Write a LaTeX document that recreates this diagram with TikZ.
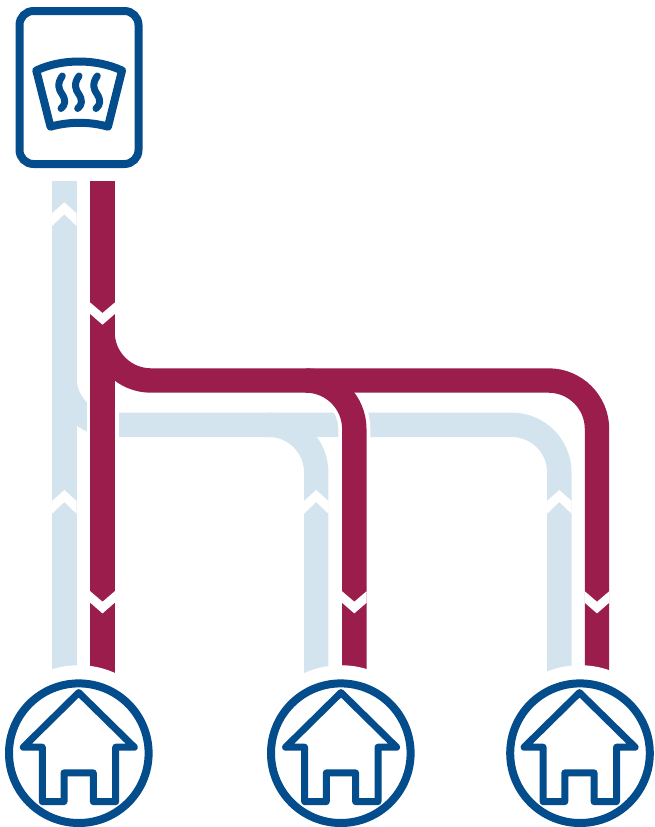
\documentclass[tikz,border=0pt]{standalone}
\definecolor{pipelight}{HTML}{D4E4EF}
\definecolor{pipedark}{HTML}{9B1D4C}
\definecolor{iconblue}{HTML}{034D8C}
\tikzset{
  x=1pt,y=-1pt,
  lightpipe/.style={draw=pipelight,line width=24.4pt,line cap=butt,rounded corners=47.5pt},
  darkpipe/.style={draw=pipedark,line width=24.4pt,line cap=butt,rounded corners=48.5pt},
  halo/.style={draw=white,line width=32pt,line cap=butt,rounded corners=48.5pt},
  iconline/.style={draw=iconblue,line width=7pt,line join=round,line cap=round},
  shieldline/.style={draw=iconblue,line width=8pt,line join=round,line cap=round},
  clearing/.style={circle,fill=white,minimum size=176pt,inner sep=0pt,outer sep=0pt},
  homering/.style={circle,draw=iconblue,fill=white,line width=8pt,minimum size=139.6pt,inner sep=0pt,outer sep=0pt},
  chevup/.pic={\fill[white] (-12.3,11)--(0,0)--(12.3,11)--(12.3,23.7)--(0,12)--(-12.3,23.7)--cycle;},
  chevdown/.pic={\fill[white] (-12.3,-10.5)--(0,0)--(12.3,-10.5)--(12.3,1)--(0,11.7)--(-12.3,1)--cycle;},
  house/.pic={\draw[iconline] (0,-60.6)--(55.6,-6)--(37,-6)--(37,48.4)--(14.6,48.4)--(14.6,19.7)--(-14.7,19.7)--(-14.7,48.4)--(-36.4,48.4)--(-36.4,-6)--(-55.4,-6)--cycle;},
}
\begin{document}
\begin{tikzpicture}
\useasboundingbox (0,0) rectangle (654,827);
% free pipe ends and junctions
\coordinate (ltop) at (64.3,181);
\coordinate (dtop) at (102.5,181);
\coordinate (lA) at (64.3,680);
\coordinate (dA) at (102.5,680);
\coordinate (lB) at (316.2,680);
\coordinate (dB) at (354.3,680);
\coordinate (lC) at (559.3,680);
\coordinate (dC) at (597,680);
\coordinate (ljA) at (64.3,377);
\coordinate (lcA) at (64.3,424.8);
\coordinate (ljB) at (269,424.8);
\coordinate (lcB) at (316.2,424.8);
\coordinate (lcC) at (559.3,424.8);
\coordinate (djA) at (102.5,332);
\coordinate (dcA) at (102.5,380.5);
\coordinate (djB) at (306,380.5);
\coordinate (dcB) at (354.3,380.5);
\coordinate (dcC) at (597,380.5);
% supply and return pipes
\draw[lightpipe] (ltop) -- (lA);
\draw[lightpipe] (ljA) -- (lcA) -- (lcC) -- (lC);
\draw[lightpipe] (ljB) -- (lcB) -- (lB);
\draw[halo] (dtop) -- (dA);
\draw[halo] (djA) -- (dcA) -- (dcC) -- (dC);
\draw[halo] (djB) -- (dcB) -- (dB);
\draw[darkpipe] (dtop) -- (dA);
\draw[darkpipe] (djA) -- (dcA) -- (dcC) -- (dC);
\draw[darkpipe] (djB) -- (dcB) -- (dB);
% flow direction marks
\pic at (64.3,202.3) {chevup};
\pic at (64.3,490) {chevup};
\pic at (316.2,490) {chevup};
\pic at (559.3,490) {chevup};
\pic at (102.5,313) {chevdown};
\pic at (102.5,601.7) {chevdown};
\pic at (354.3,601.7) {chevdown};
\pic at (597,601.7) {chevdown};
% houses
\node[clearing] (clearA) at (78.8,753.2) {};
\node[clearing] (clearB) at (340.8,753.2) {};
\node[clearing] (clearC) at (580,753.2) {};
\node[homering] (homeA) at (78.8,753.2) {};
\node[homering] (homeB) at (340.8,753.2) {};
\node[homering] (homeC) at (580,753.2) {};
\pic at (78.7,753.2) {house};
\pic at (341,753.2) {house};
\pic at (579.5,753.2) {house};
% heat source
\node[draw=iconblue,line width=8pt,rounded corners=14pt,minimum width=119pt,minimum height=153pt,inner sep=0pt] (source) at (79,87.5) {};
\draw[shieldline] (36.3,70.5) .. controls (62,58.5) and (96,58.5) .. (122,70.5) -- (108,126.7) .. controls (90,121.5) and (69,121.5) .. (50.5,126.7) -- cycle;
\foreach \dx in {0,16.7,35}{
  \draw[iconline,xshift=\dx pt] (62.3,76) .. controls (56.5,84) and (59,90) .. (62,94) .. controls (66,100) and (65.5,105) .. (61,108.5);
}
\end{tikzpicture}
\end{document}
